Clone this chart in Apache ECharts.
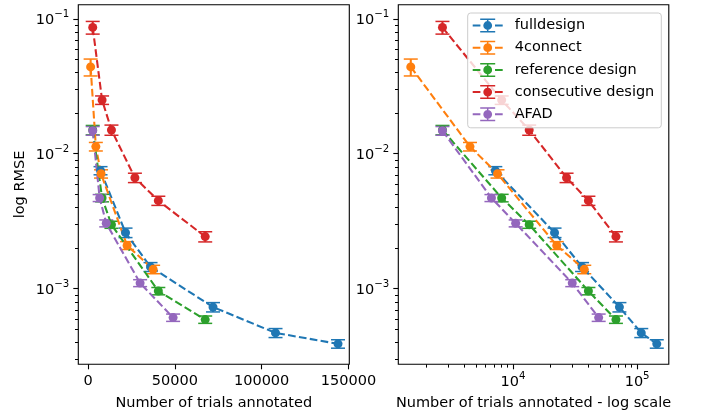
<!DOCTYPE html>
<html><head><meta charset="utf-8">
<script src="https://cdn.jsdelivr.net/npm/echarts@6/dist/echarts.min.js"></script>
<style>html,body{margin:0;padding:0;background:#fff}#c{width:702px;height:417px}</style>
</head><body><div id="c"></div>
<script>
// ---- data ----
const seriesNames = ['fulldesign', '4connect', 'reference design', 'consecutive design', 'AFAD'];
const seriesColors = ['#1f77b4', '#ff7f0e', '#2ca02c', '#d62728', '#9467bd'];

const fulldesignX = [7200, 21600, 36000, 72000, 108000, 144000];
const fulldesignY = [0.0075, 0.0026, 0.00145, 0.00073, 0.00047, 0.00039];
const fulldesignErr = [0.00052, 0.00021, 0.00011, 0.000058, 0.000036, 0.000028];

const connect4X = [1500, 4500, 7500, 22500, 37500];
const connect4Y = [0.044, 0.0113, 0.0071, 0.00209, 0.00139];
const connect4Err = [0.0063, 0.00082, 0.0005, 0.00014, 0.0001];

const referenceX = [2700, 8100, 13500, 40500, 67500];
const referenceY = [0.0150, 0.0047, 0.00298, 0.00096, 0.00059];
const referenceErr = [0.0012, 0.0003, 0.00018, 0.00006, 0.000037];

const consecutiveX = [2700, 8100, 13500, 27000, 40500, 67500];
const consecutiveY = [0.0863, 0.0250, 0.0150, 0.00664, 0.00449, 0.00243];
const consecutiveErr = [0.0093, 0.0018, 0.0013, 0.00053, 0.00035, 0.00021];

const afadX = [2700, 6700, 10500, 30000, 49000];
const afadY = [0.0148, 0.0047, 0.00305, 0.0011, 0.00061];
const afadErr = [0.0011, 0.00028, 0.00018, 0.000065, 0.000038];

const yMajorTicks = [0.001, 0.01, 0.1];
const yMinorTicks = [0.0003, 0.0004, 0.0005, 0.0006, 0.0007, 0.0008, 0.0009,
  0.002, 0.003, 0.004, 0.005, 0.006, 0.007, 0.008, 0.009,
  0.02, 0.03, 0.04, 0.05, 0.06, 0.07, 0.08, 0.09];
const xLinearTicks = [0, 50000, 100000, 150000];
const xLogMajorTicks = [10000, 100000];
const xLogMinorTicks = [2000, 3000, 4000, 5000, 6000, 7000, 8000, 9000,
  20000, 30000, 40000, 50000, 60000, 70000, 80000, 90000];

const xLabelLeft = 'Number of trials annotated';
const xLabelRight = 'Number of trials annotated - log scale';
const yLabel = 'log RMSE';

// ---- chart ----
const FONT = 'DejaVu Sans';
const FS = 14.5;
const allX = [fulldesignX, connect4X, referenceX, consecutiveX, afadX];
const allY = [fulldesignY, connect4Y, referenceY, consecutiveY, afadY];
const allE = [fulldesignErr, connect4Err, referenceErr, consecutiveErr, afadErr];

const Y_MIN = 2.75e-4, Y_MAX = 0.1272;
const XL_MIN = -5600, XL_MAX = 150500;
const XR_MIN = 1190, XR_MAX = 180000;

function powLabel(v) {
  const e = Math.round(Math.log10(v));
  const s = e < 0 ? '\u2212' + Math.abs(e) : String(e);
  return '{b|10}{s|' + s + '}';
}
const powRich = {
  b: { fontSize: FS, fontFamily: FONT, color: '#000', lineHeight: 18, verticalAlign: 'bottom' },
  s: { fontSize: 10.2, fontFamily: FONT, color: '#000', verticalAlign: 'top' }
};

const LEGEND_ICON = 'path://M0 6h7.7v2h-7.7Z M11 6h7.7v2h-7.7Z M22.3 6h7.7v2h-7.7Z ' +
  'M14.25 0h1.5v14h-1.5Z M7.5 0h15v1.5h-15Z M7.5 12.5h15v1.5h-15Z ' +
  'M10.6 7A4.4 4.4 0 1 1 19.4 7A4.4 4.4 0 1 1 10.6 7Z';

const tickStyleMajor = { color: '#000', width: 1.1 };
const nameStyle = { fontFamily: FONT, fontSize: FS, color: '#000' };
const MINOR_LEN = 3.3;

function yAxis(gridIndex, withName) {
  return {
    gridIndex, type: 'log', logBase: 10, min: Y_MIN, max: Y_MAX, position: 'left',
    axisLine: { show: false, onZero: false }, splitLine: { show: false },
    axisTick: { customValues: yMajorTicks, length: 5, lineStyle: tickStyleMajor },
    axisLabel: { customValues: yMajorTicks, margin: 9, formatter: powLabel, rich: powRich },
    name: withName ? yLabel : '', nameLocation: 'middle', nameGap: 51, nameTextStyle: nameStyle
  };
}

// minor ticks drawn through the axes' own scales (api.coord)
function minorTicks(xi, yi, data, dir) {
  return {
    type: 'custom', xAxisIndex: xi, yAxisIndex: yi, data, silent: true, clip: false, z: 5,
    encode: { x: 0, y: 1 },
    renderItem: (params, api) => {
      const cs = params.coordSys;
      const p = api.coord([api.value(0), api.value(1)]);
      const st = { stroke: '#000', lineWidth: 1 };
      if (dir === 'y') {
        const y = Math.round(p[1]) + 0.5;
        return { type: 'line', shape: { x1: cs.x - MINOR_LEN, y1: y, x2: cs.x, y2: y }, style: st };
      }
      const x = Math.round(p[0]) + 0.5;
      const b = cs.y + cs.height;
      return { type: 'line', shape: { x1: x, y1: b, x2: x, y2: b + MINOR_LEN }, style: st };
    }
  };
}

const series = [];
seriesNames.forEach((name, k) => {
  const color = seriesColors[k];
  const X = allX[k], Y = allY[k], E = allE[k];
  const pts = X.map((x, i) => [x, Y[i]]);
  const errs = X.map((x, i) => [x, Y[i] - E[i], Y[i] + E[i]]);
  [0, 1].forEach(g => {
    series.push({
      name, type: 'line', xAxisIndex: g, yAxisIndex: g, data: pts,
      symbol: 'circle', symbolSize: 9, showSymbol: true,
      lineStyle: { color, width: 2.08, type: [7.7, 3.3] },
      itemStyle: { color, borderWidth: 0 },
      emphasis: { disabled: true }, silent: true
    });
    series.push({
      name: name + '__err' + g, type: 'custom', xAxisIndex: g, yAxisIndex: g, data: errs,
      encode: { x: 0, y: [1, 2] }, silent: true,
      renderItem: (params, api) => {
        const x = api.value(0);
        const lo = api.coord([x, api.value(1)]);
        const hi = api.coord([x, api.value(2)]);
        const hw = 7;
        const st = { stroke: color, lineWidth: 2.08 };
        const cst = { stroke: color, lineWidth: 1.5 };
        return {
          type: 'group', children: [
            { type: 'line', shape: { x1: lo[0], y1: lo[1], x2: hi[0], y2: hi[1] }, style: st },
            { type: 'line', shape: { x1: lo[0] - hw, y1: lo[1], x2: lo[0] + hw, y2: lo[1] }, style: cst },
            { type: 'line', shape: { x1: hi[0] - hw, y1: hi[1], x2: hi[0] + hw, y2: hi[1] }, style: cst }
          ]
        };
      }
    });
  });
});
series.push(minorTicks(0, 0, yMinorTicks.map(v => [XL_MIN, v]), 'y'));
series.push(minorTicks(1, 1, yMinorTicks.map(v => [XR_MIN, v]), 'y'));
series.push(minorTicks(1, 1, xLogMinorTicks.map(v => [v, Y_MIN]), 'x'));

const option = {
  animation: false,
  backgroundColor: '#fff',
  grid: [
    { left: 78.3, top: 4.7, width: 271, height: 359.6, show: true, borderColor: '#000', borderWidth: 1.1, backgroundColor: 'transparent', outerBoundsMode: 'none' },
    { left: 398.3, top: 4.7, width: 270.5, height: 359.6, show: true, borderColor: '#000', borderWidth: 1.1, backgroundColor: 'transparent', outerBoundsMode: 'none' }
  ],
  xAxis: [
    {
      gridIndex: 0, type: 'value', min: XL_MIN, max: XL_MAX, position: 'bottom',
      axisLine: { show: false, onZero: false }, splitLine: { show: false },
      axisTick: { customValues: xLinearTicks, length: 5, lineStyle: tickStyleMajor },
      axisLabel: { customValues: xLinearTicks, margin: 9, color: '#000', fontSize: FS, fontFamily: FONT, formatter: v => String(v) },
      name: xLabelLeft, nameLocation: 'middle', nameGap: 31, nameTextStyle: nameStyle
    },
    {
      gridIndex: 1, type: 'log', logBase: 10, min: XR_MIN, max: XR_MAX, position: 'bottom',
      axisLine: { show: false, onZero: false }, splitLine: { show: false },
      axisTick: { customValues: xLogMajorTicks, length: 5, lineStyle: tickStyleMajor },
      axisLabel: { customValues: xLogMajorTicks, margin: 7, formatter: powLabel, rich: powRich },
      name: xLabelRight, nameLocation: 'middle', nameGap: 31, nameTextStyle: nameStyle
    }
  ],
  yAxis: [yAxis(0, true), yAxis(1, false)],
  legend: {
    orient: 'vertical', left: 467.7, top: 13,
    itemWidth: 30, itemHeight: 14, itemGap: 7.2,
    padding: [5, 7, 6, 5],
    backgroundColor: 'rgba(255,255,255,0.8)', borderColor: '#cccccc', borderWidth: 1, borderRadius: 3,
    textStyle: { fontFamily: FONT, fontSize: FS, color: '#000', padding: [0, 0, 0, 7] },
    itemStyle: { borderWidth: 0 },
    selectedMode: false,
    data: seriesNames.map(n => ({ name: n, icon: LEGEND_ICON }))
  },
  series
};

const chart = echarts.init(document.getElementById('c'), null, { renderer: 'canvas' });
chart.setOption(option);
</script>
</body></html>
